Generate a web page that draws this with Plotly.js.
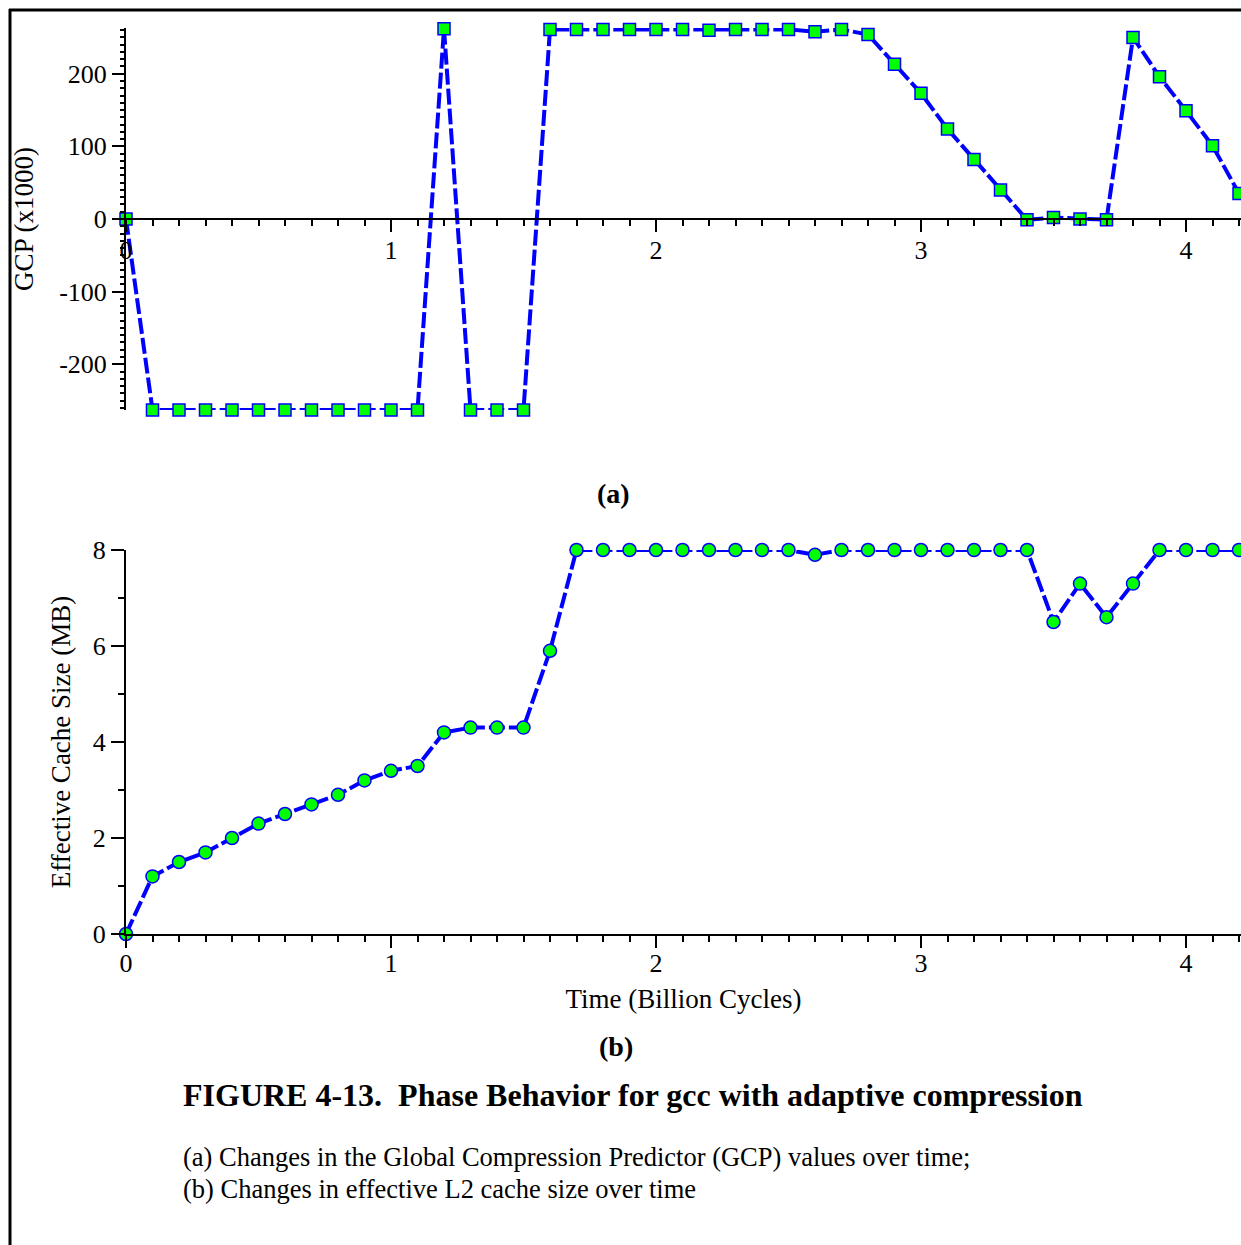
<!DOCTYPE html>
<html>
<head>
<meta charset="utf-8">
<script src="https://cdn.plot.ly/plotly-3.0.1.min.js"></script>
<style>
html,body{margin:0;padding:0;background:#fff;}
#chart{width:1241px;height:1245px;}
</style>
</head>
<body>
<div id="chart"></div>
<script>
// Time (billion cycles)
var time = [0.0,0.1,0.2,0.3,0.4,0.5,0.6,0.7,0.8,0.9,1.0,1.1,1.2,1.3,1.4,1.5,1.6,1.7,1.8,1.9,2.0,
            2.1,2.2,2.3,2.4,2.5,2.6,2.7,2.8,2.9,3.0,3.1,3.2,3.3,3.4,3.5,3.6,3.7,3.8,3.9,4.0,4.1,4.2];
// (a) GCP (x1000)
var gcp = [0,-263,-263,-263,-263,-263,-263,-263,-263,-263,-263,-263,262,-263,-263,-263,261,261,261,261,261,
           261,260,261,261,261,258,261,254,213,173,124,82,40,-1,2,0,-1,250,196,149,101,35];
// (b) Effective cache size (MB)
var cacheMB = [0,1.2,1.5,1.7,2.0,2.3,2.5,2.7,2.9,3.2,3.4,3.5,4.2,4.3,4.3,4.3,5.9,8,8,8,8,
               8,8,8,8,8,7.9,8,8,8,8,8,8,8,8,6.5,7.3,6.6,7.3,8,8,8,8];

var xTickVals = [0,1,2,3,4];
var xTickText = ['0','1','2','3','4'];
var gcpTickVals = [-200,-100,0,100,200];
var gcpTickText = ['-200','-100','0','100','200'];
var cacheTickVals = [0,2,4,6,8];
var cacheTickText = ['0','2','4','6','8'];

var FONT = 'Liberation Serif, Times New Roman, serif';
var W = 1241, H = 1245;
function px(x){return x/W;}
function py(y){return 1 - y/H;}

var lineStyle = {color:'#0000ff', width:4, dash:'16px,4px'};

var traces = [
  {x: time, y: gcp, xaxis:'x', yaxis:'y', type:'scatter', mode:'lines+markers',
   line: lineStyle, cliponaxis:false,
   marker:{symbol:'square', size:12, color:'#00ff00', line:{color:'#0000ff', width:1.5}},
   hoverinfo:'x+y', showlegend:false},
  {x: time, y: cacheMB, xaxis:'x2', yaxis:'y2', type:'scatter', mode:'lines+markers',
   line: lineStyle, cliponaxis:false,
   marker:{symbol:'circle', size:13, color:'#00ff00', line:{color:'#0000ff', width:1.5}},
   hoverinfo:'x+y', showlegend:false}
];

var xDom = [px(126), 1];
var topDom = [py(410), py(28)];
var botDom = [py(934), py(550)];
var xRange = [0, (1241-126)/265];

var tickFont = {family: FONT, size: 26, color:'#000'};
var titleFont = {family: FONT, size: 27, color:'#000'};

var layout = {
  width: W, height: H,
  margin:{l:0,r:0,t:0,b:0},
  paper_bgcolor:'#fff', plot_bgcolor:'rgba(0,0,0,0)',
  showlegend:false,
  font:{family: FONT, color:'#000'},
  xaxis:{
    domain: xDom, range: xRange, anchor:'free', position: (topDom[0]+topDom[1])/2,
    showline:true, linecolor:'#000', linewidth:2, showgrid:false, zeroline:false,
    tickmode:'array', tickvals: xTickVals, ticktext: xTickText,
    ticks:'outside', ticklen:12, tickwidth:2, tickcolor:'#000', tickfont: tickFont,
    ticklabelstandoff:-4,
    minor:{dtick:0.1, tick0:0, ticks:'outside', ticklen:6, tickwidth:2, tickcolor:'#000', showgrid:false}
  },
  yaxis:{
    domain: topDom, range:[-263,263], anchor:'x',
    showline:true, linecolor:'#000', linewidth:2, showgrid:false, zeroline:false,
    tickmode:'array', tickvals: gcpTickVals, ticktext: gcpTickText,
    ticks:'outside', ticklen:12, tickwidth:2, tickcolor:'#000', tickfont: tickFont,
    minor:{dtick:10, tick0:0, ticks:'outside', ticklen:4, tickwidth:2, tickcolor:'#000', showgrid:false},
    title:{text:'GCP (x1000)', font: titleFont, standoff: 18}
  },
  yaxis3:{
    domain: topDom, range:[-263,263], overlaying:'y', anchor:'x',
    showline:false, showgrid:false, zeroline:false, showticklabels:false,
    tickmode:'linear', tick0:0, dtick:10,
    ticks:'inside', ticklen:4, tickwidth:2, tickcolor:'#000'
  },
  xaxis2:{
    domain: xDom, range: xRange, anchor:'y2',
    showline:true, linecolor:'#000', linewidth:2, showgrid:false, zeroline:false,
    tickmode:'array', tickvals: xTickVals, ticktext: xTickText,
    ticks:'outside', ticklen:12, tickwidth:2, tickcolor:'#000', tickfont: tickFont,
    ticklabelstandoff:-7,
    minor:{dtick:0.1, tick0:0, ticks:'outside', ticklen:6, tickwidth:2, tickcolor:'#000', showgrid:false},
    title:{text:'Time (Billion Cycles)', font: titleFont, standoff: 12}
  },
  yaxis2:{
    domain: botDom, range:[0,8], anchor:'x2',
    showline:true, linecolor:'#000', linewidth:2, showgrid:false, zeroline:false,
    tickmode:'array', tickvals: cacheTickVals, ticktext: cacheTickText,
    ticks:'outside', ticklen:13, tickwidth:2, tickcolor:'#000', tickfont: tickFont,
    minor:{dtick:1, tick0:0, ticks:'outside', ticklen:6, tickwidth:2, tickcolor:'#000', showgrid:false},
    title:{text:'Effective Cache Size (MB)', font: titleFont, standoff: 14}
  },
  shapes:[
    {type:'line', xref:'paper', yref:'paper', x0:px(9), x1:1, y0:py(10), y1:py(10), line:{color:'#000', width:3}},
    {type:'line', xref:'paper', yref:'paper', x0:px(10), x1:px(10), y0:py(9), y1:0, line:{color:'#000', width:3}}
  ],
  annotations:[
    {text:'<b>(a)</b>', xref:'paper', yref:'paper', x:px(613), y:py(494), xanchor:'center', yanchor:'middle', showarrow:false, font:{family:FONT, size:28, color:'#000'}},
    {text:'<b>(b)</b>', xref:'paper', yref:'paper', x:px(616), y:py(1046), xanchor:'center', yanchor:'middle', showarrow:false, font:{family:FONT, size:28, color:'#000'}},
    {text:'<b>FIGURE 4-13.\u00a0\u00a0Phase Behavior for gcc with adaptive compression</b>', xref:'paper', yref:'paper', x:px(181), y:py(1095), xanchor:'left', yanchor:'middle', showarrow:false, font:{family:FONT, size:32, color:'#000'}},
    {text:'(a) Changes in the Global Compression Predictor (GCP) values over time;', xref:'paper', yref:'paper', x:px(181), y:py(1157), xanchor:'left', yanchor:'middle', showarrow:false, font:{family:FONT, size:26.5, color:'#000'}},
    {text:'(b) Changes in effective L2 cache size over time', xref:'paper', yref:'paper', x:px(181), y:py(1189), xanchor:'left', yanchor:'middle', showarrow:false, font:{family:FONT, size:26.5, color:'#000'}}
  ]
};

Plotly.newPlot('chart', traces, layout, {displayModeBar:false, staticPlot:true});
</script>
</body>
</html>
